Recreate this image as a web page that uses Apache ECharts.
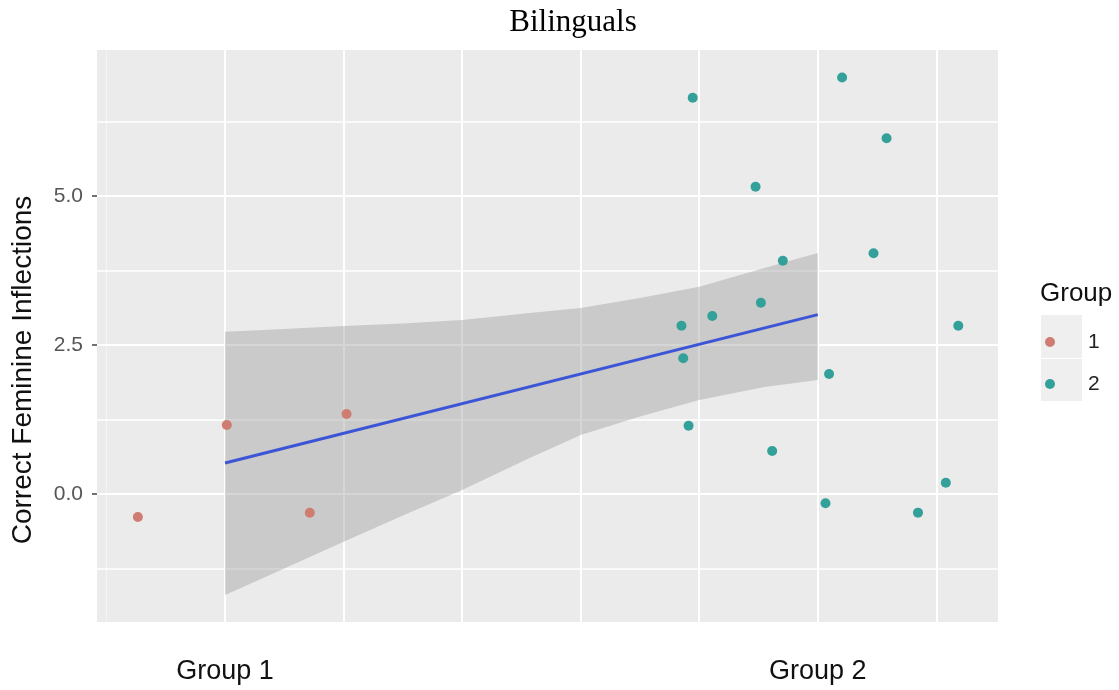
<!DOCTYPE html>
<html>
<head>
<meta charset="utf-8">
<script src="https://cdn.jsdelivr.net/npm/echarts@6/dist/echarts.min.js"></script>
<style>
  html, body { margin: 0; padding: 0; background: #ffffff; }
  #chart { width: 1119px; height: 690px; }
</style>
</head>
<body>
<div id="chart"></div>
<script>
// ---- data ----
const group1X = [0.853, 1.003, 1.143, 1.205];
const group1Y = [-0.386, 1.158, -0.314, 1.342];

const group2X = [1.789, 1.895, 2.041, 2.116, 1.941, 1.904, 1.822, 1.770, 1.773, 1.782, 1.923, 2.094, 2.237, 2.019, 2.013, 2.169, 2.216];
const group2Y = [6.65, 5.156, 6.99, 5.97, 3.914, 3.21, 2.987, 2.824, 2.277, 1.146, 0.721, 4.04, 2.824, 2.013, -0.156, -0.313, 0.19];

const fitX = [1.0, 2.0];
const fitY = [0.52, 3.01];

const ribbonX     = [1.0,   1.1,   1.2,   1.3,   1.4,   1.514, 1.6,   1.7,   1.8,   1.91,  2.0];
const ribbonUpper = [2.723, 2.77,  2.819, 2.86,  2.92,  3.037, 3.121, 3.29,  3.478, 3.792, 4.044];
const ribbonLower = [-1.695, -1.25, -0.80, -0.36, 0.067, 0.604, 0.99, 1.30, 1.577, 1.795, 1.913];

const xGridTicks = [0.8, 1.0, 1.2, 1.4, 1.6, 1.8, 2.0, 2.2];
const yMajorTicks = [0, 2.5, 5.0];
const yMinorTicks = [-1.25, 1.25, 3.75, 6.25];
const yTickLabels = ['0.0', '2.5', '5.0'];
const xLabelValues = [1, 2];
const xLabelTexts = ['Group 1', 'Group 2'];
const legendNames = ['1', '2'];

const colors = ['#cf7c72', '#33a19a'];
const sans = 'Liberation Sans, Arial, sans-serif';

const chart = echarts.init(document.getElementById('chart'));

const gridLines = [];
xGridTicks.forEach(v => gridLines.push({ xAxis: v, lineStyle: { type: 'solid', color: '#ffffff', width: v < 0.9 ? 1 : 2, opacity: v < 0.9 ? 0.5 : 1 } }));
yMajorTicks.forEach(v => gridLines.push({ yAxis: v, lineStyle: { type: 'solid', color: '#ffffff', width: 2 } }));
yMinorTicks.forEach(v => gridLines.push({ yAxis: v, lineStyle: { type: 'solid', color: '#ffffff', width: 1.6 } }));

const option = {
  backgroundColor: '#ffffff',
  animation: false,
  title: {
    text: 'Bilinguals',
    left: 573,
    textAlign: 'center',
    top: 7,
    padding: 0,
    textStyle: { fontFamily: 'Liberation Serif, Times New Roman, serif', fontSize: 31, fontWeight: 'normal', color: '#000000' }
  },
  grid: {
    left: 97, right: 121, top: 50, bottom: 68,
    show: true, backgroundColor: '#ebebeb', borderWidth: 0
  },
  legend: {
    data: legendNames,
    orient: 'vertical',
    left: 1040,
    top: 326,
    itemWidth: 40,
    itemHeight: 10,
    itemGap: 20,
    icon: 'circle',
    z: 10,
    textStyle: { fontFamily: sans, fontSize: 21, color: '#222', lineHeight: 22, padding: [0, 0, 0, 13] }
  },
  graphic: [
    { type: 'rect', left: 1041, top: 315, z: 1, shape: { width: 41, height: 43 }, style: { fill: '#efefef' } },
    { type: 'rect', left: 1041, top: 359, z: 1, shape: { width: 41, height: 42 }, style: { fill: '#efefef' } },
    { type: 'text', left: 1040, top: 281, z: 5, style: { text: 'Group', font: '26px ' + sans, fill: '#111' } },
    { type: 'text', x: 23, y: 370, rotation: Math.PI / 2, z: 5,
      style: { text: 'Correct Feminine Inflections', font: '28px ' + sans, fill: '#111', textAlign: 'center', textVerticalAlign: 'middle' } }
  ],
  xAxis: {
    type: 'value',
    min: 0.784, max: 2.304,
    axisLine: { show: false },
    axisTick: { show: false },
    splitLine: { show: false },
    axisLabel: {
      customValues: xLabelValues,
      formatter: v => xLabelTexts[xLabelValues.indexOf(v)] || '',
      fontFamily: sans, fontSize: 27, color: '#111', margin: 36
    }
  },
  yAxis: {
    type: 'value',
    min: -2.148, max: 7.45,
    axisLine: { show: false },
    axisTick: { show: true, customValues: yMajorTicks, length: 5, lineStyle: { color: '#444', width: 1.5 } },
    splitLine: { show: false },
    axisLabel: {
      customValues: yMajorTicks,
      formatter: v => yTickLabels[yMajorTicks.indexOf(v)] || '',
      fontFamily: sans, fontSize: 21, color: '#555', margin: 14
    }
  },
  series: [
    {
      type: 'line', name: 'grid', data: [[1, 0]], showSymbol: false, silent: true, z: 1,
      lineStyle: { opacity: 0 }, legendHoverLink: false,
      markLine: { z: 1, silent: true, symbol: ['none', 'none'], label: { show: false }, animation: false, data: gridLines }
    },
    {
      type: 'custom', name: 'ci', z: 2, silent: true,
      data: ribbonX.map((x, i) => [x, ribbonUpper[i], ribbonLower[i]]),
      encode: { x: 0, y: [1, 2] },
      renderItem: function (params, api) {
        if (params.dataIndex !== 0) return null;
        const pts = [];
        for (let i = 0; i < ribbonX.length; i++) pts.push(api.coord([ribbonX[i], ribbonUpper[i]]));
        for (let i = ribbonX.length - 1; i >= 0; i--) pts.push(api.coord([ribbonX[i], ribbonLower[i]]));
        return { type: 'polygon', shape: { points: pts }, style: { fill: '#999999', opacity: 0.4 } };
      }
    },
    {
      type: 'line', name: 'fit', z: 3, silent: true, showSymbol: false,
      data: fitX.map((x, i) => [x, fitY[i]]),
      lineStyle: { color: '#3b55d6', width: 3 }
    },
    {
      type: 'scatter', name: legendNames[0], z: 4, symbolSize: 10,
      itemStyle: { color: colors[0], opacity: 1 },
      data: group1X.map((x, i) => [x, group1Y[i]])
    },
    {
      type: 'scatter', name: legendNames[1], z: 4, symbolSize: 10,
      itemStyle: { color: colors[1], opacity: 1 },
      data: group2X.map((x, i) => [x, group2Y[i]])
    }
  ]
};
chart.setOption(option);
</script>
</body>
</html>
